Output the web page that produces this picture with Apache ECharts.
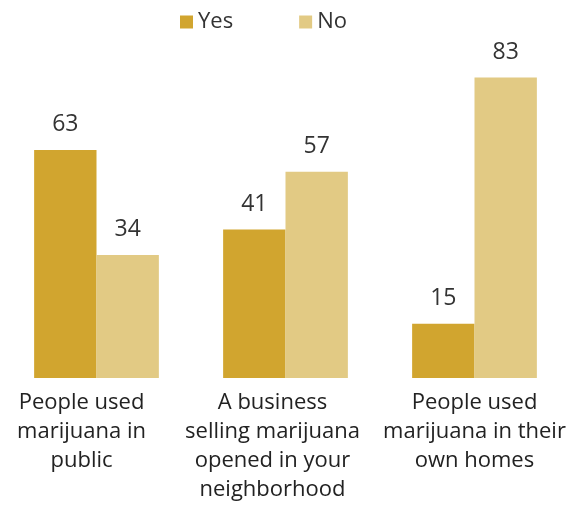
<!DOCTYPE html>
<html><head><meta charset="utf-8">
<script src="https://cdn.jsdelivr.net/npm/echarts@6/dist/echarts.min.js"></script>
<style>html,body{margin:0;padding:0;background:#fff}#c{width:573px;height:508px}</style>
</head><body><div id="c"></div>
<script>
const categories = ["People used\nmarijuana in\npublic", "A business\nselling marijuana\nopened in your\nneighborhood", "People used\nmarijuana in their\nown homes"];
const yesValues = [63, 41, 15];
const noValues = [34, 57, 83];
const seriesNames = ["Yes", "No"];

const chart = echarts.init(document.getElementById('c'));
const font = '"Open Sans", Roboto, sans-serif';
chart.setOption({
  animation: false,
  textStyle: {fontFamily: font},
  legend: {
    data: seriesNames, left: 175, top: 6, itemWidth: 13, itemHeight: 13, itemGap: 66,
    icon: 'rect',
    textStyle: {fontSize: 22, color: '#333', fontFamily: font}
  },
  grid: {left: 2, right: 4, top: 16, bottom: 130, containLabel: false},
  xAxis: {
    type: 'category',
    data: categories.map((c, i) => ({value: c, textStyle: {padding: i === 0 ? [0, 30, 0, 0] : i === 1 ? [0, 26, 0, 0] : [0, 0, 0, 0]}})),
    axisLine: {show: false}, axisTick: {show: false},
    axisLabel: {fontSize: 22, color: '#222', lineHeight: 29, margin: 10, interval: 0, fontFamily: font}
  },
  yAxis: {type: 'value', min: 0, max: 100, show: false, splitLine: {show: false}},
  series: [
    {name: 'Yes', type: 'bar', data: yesValues, barGap: '0%', barCategoryGap: '34%',
     itemStyle: {color: '#D1A52F'},
     label: {show: true, position: 'top', distance: 14, fontSize: 23, color: '#333', fontFamily: font}},
    {name: 'No', type: 'bar', data: noValues,
     itemStyle: {color: '#E2CA84'},
     label: {show: true, position: 'top', distance: 14, fontSize: 23, color: '#333', fontFamily: font}}
  ]
});
</script></body></html>
